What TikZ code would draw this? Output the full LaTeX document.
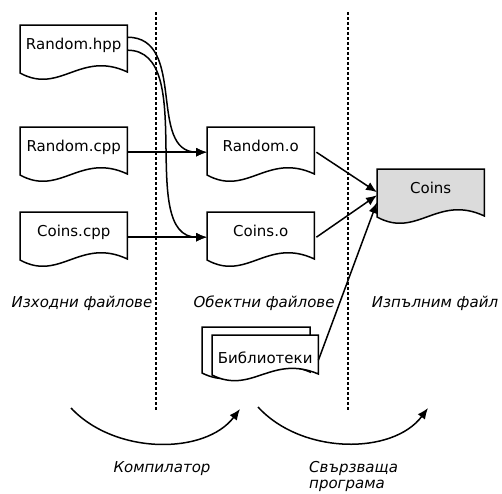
\documentclass[tikz,border=0pt]{standalone}
\usepackage{fontspec}
\setmainfont{DejaVu Sans}
\usetikzlibrary{arrows.meta,backgrounds}
\begin{document}
\begin{tikzpicture}[x=1pt,y=-1pt,
  every node/.style={font=\fontsize{15}{19}\selectfont},
  docbox/.style={inner sep=0pt, minimum width=107pt, text height=24.5pt, text depth=25.5pt, anchor=north west},
  docshape/.style={draw=black, line width=1.5pt, line join=miter},
  arr/.style={line width=1.5pt, -{Latex[length=11pt,width=9pt]}},
  sep/.style={line width=1.1pt, dash pattern=on 3pt off 2pt},
  lbl/.style={font=\fontsize{15}{19}\selectfont\itshape, anchor=base}
]
\useasboundingbox (0,0) rectangle (502,493);

% separators
\coordinate (d1t) at (156,12); \coordinate (d1b) at (156,410);
\coordinate (d2t) at (348,12); \coordinate (d2b) at (348,410);
\draw[sep] (d1t) -- (d1b);
\draw[sep] (d2t) -- (d2b);

% documents
\node[docbox] (hpp) at (20,25) {Random.hpp};
\node[docbox] (rcpp) at (20,127) {Random.cpp};
\node[docbox] (ccpp) at (20,212) {Coins.cpp};
\node[docbox] (ro) at (207,127) {Random.o};
\node[docbox] (co) at (207,212) {Coins.o};
\node[docbox] (coins) at (377,169) {Coins};
\node[docbox, minimum width=106pt, text height=28pt, text depth=22pt] (lib) at (212,335) {Библиотеки};

\begin{scope}[on background layer]
  \foreach \n in {hpp,rcpp,ccpp,ro,co}{
    \filldraw[docshape, fill=white] (\n.north west) -- ([yshift=-48pt]\n.north west)
      .. controls +(40,22) and +(-47,-22) .. ([yshift=-47pt]\n.north east)
      -- (\n.north east) -- cycle;
  }
  \filldraw[docshape, fill=black!14] (coins.north west) -- ([yshift=-48pt]coins.north west)
      .. controls +(40,22) and +(-47,-22) .. ([yshift=-47pt]coins.north east)
      -- (coins.north east) -- cycle;
  % back sheet of the library stack
  \filldraw[docshape, fill=white] (202,327) -- (202,373)
      .. controls +(40,20) and +(-47,-20) .. (310,372) -- (310,327) -- cycle;
  \filldraw[docshape, fill=white] (lib.north west) -- ([yshift=-40pt]lib.north west)
      .. controls +(40,20) and +(-47,-20) .. ([yshift=-39pt]lib.north east)
      -- (lib.north east) -- cycle;
\end{scope}

% connectors
\draw[arr] ([yshift=13pt]hpp.east) to[out=0,in=180,looseness=1.1] (ro.west);
\draw[arr] (hpp.east) to[out=0,in=180,looseness=0.9] (co.west);
\draw[arr] (rcpp.east) -- (ro.west);
\draw[arr] (ccpp.east) -- (co.west);
\draw[arr] ([xshift=2pt]ro.east) -- ([yshift=2pt]coins.west);
\draw[arr] ([xshift=2pt]co.east) -- ([yshift=-1pt]coins.west);
\draw[arr] (lib.east) -- ([yshift=-8pt]coins.west);

% column labels
\node[lbl] (l1) at (82,307) {Изходни файлове};
\node[lbl] (l2) at (264,307) {Обектни файлове};
\node[lbl] (l3) at (435,307) {Изпълним файл};

% process arcs
\coordinate (a1s) at (71,408); \coordinate (a1e) at (240,409);
\coordinate (a2s) at (258,407); \coordinate (a2e) at (428,408);
\draw[arr] (a1s) .. controls (115,455) and (205,455) .. (a1e);
\draw[arr] (a2s) .. controls (302,455) and (393,455) .. (a2e);

\node[lbl] (comp) at (162,472) {Компилатор};
\node[lbl, font=\fontsize{15}{16}\selectfont\itshape, anchor=north west, align=left, inner sep=0pt] (link) at (309,461) {Свързваща\\програма};
\end{tikzpicture}
\end{document}
